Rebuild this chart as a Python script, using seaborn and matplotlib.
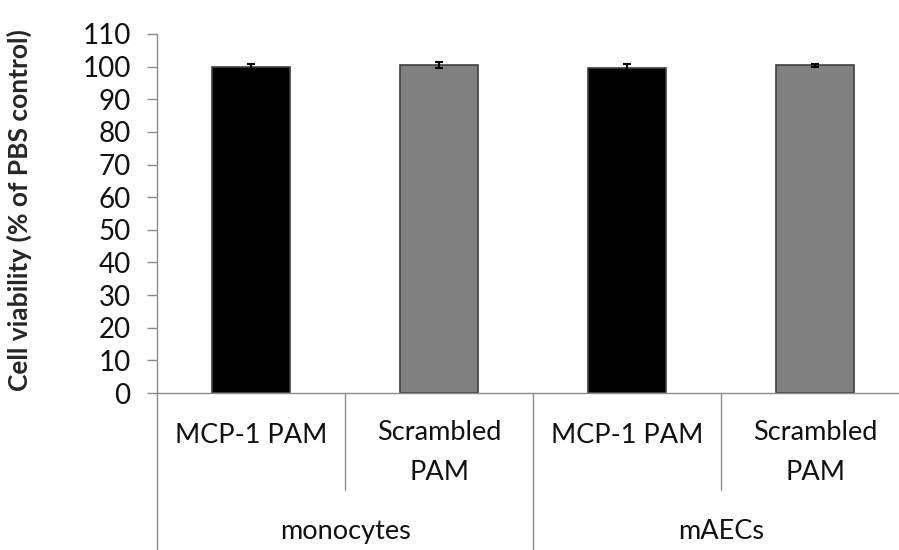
import matplotlib
matplotlib.use("Agg")
import numpy as np
import pandas as pd
import seaborn as sns
from matplotlib import pyplot as plt
from matplotlib import transforms

# data
treatments = ["MCP-1 PAM", "Scrambled\nPAM", "MCP-1 PAM", "Scrambled\nPAM"]
cell_types = ["monocytes", "mAECs"]
viability = [100.0, 100.5, 99.6, 100.4]
viability_err = [0.8, 1.0, 1.1, 0.4]
bar_colors = ["#000000", "#808080", "#000000", "#808080"]
y_ticks = list(range(0, 111, 10))

df = pd.DataFrame({"pos": [0, 1, 2, 3], "viability": viability})

sns.set_theme(style="white")
plt.rcParams["font.family"] = ["Lato", "DejaVu Sans"]

fig = plt.figure(figsize=(8.99, 5.5), dpi=100)
ax = fig.add_axes([157 / 899, 1 - 393 / 550, 1 - 157 / 899, 359 / 550])

sns.barplot(data=df, x="pos", y="viability", hue="pos", palette=bar_colors,
            legend=False, width=0.41, ax=ax, edgecolor="#404040", linewidth=1.2)
ax.errorbar(df["pos"], df["viability"], yerr=viability_err, fmt="none",
            ecolor="black", elinewidth=1.5, capsize=3, capthick=1.5)

ax.set_ylim(0, 110)
ax.set_xlim(-0.5, 3.5 - 10 / 188)
ax.set_yticks(y_ticks)
ax.set_yticklabels([str(t) for t in y_ticks], fontsize=20, color="#111111")
ax.tick_params(axis="y", which="major", left=True, length=7, width=1,
               color="#8c8c8c", pad=12)
ax.set_xticks([])
ax.set_xlabel("")
ax.set_ylabel("Cell viability (% of PBS control)", fontsize=19,
              fontweight="bold")
ax.yaxis.set_label_coords(-125 / 742, 0.51)

for side in ["top", "right"]:
    ax.spines[side].set_visible(False)
for side in ["left", "bottom"]:
    ax.spines[side].set_color("#8c8c8c")
    ax.spines[side].set_linewidth(1)

# two-level category axis
trans = transforms.blended_transform_factory(ax.transData, ax.transAxes)
for i, lab in enumerate(treatments):
    ax.text(i, -0.117 if "\n" not in lab else -0.167, lab, transform=trans,
            ha="center", va="center", fontsize=19.5, linespacing=1.75,
            color="#111111")
for g, name in enumerate(cell_types):
    ax.text(2 * g + 0.5, -0.385, name, transform=trans, ha="center",
            va="center", fontsize=19.5, color="#111111")

for x in [0.5, 2.5]:
    ax.plot([x, x], [0, -0.27], transform=trans, color="#8c8c8c", lw=1,
            clip_on=False)
for x in [-0.5, 1.5, 3.5]:
    ax.plot([x, x], [0, -0.44], transform=trans, color="#8c8c8c", lw=1,
            clip_on=False)

fig.savefig("out.png", dpi=100)
